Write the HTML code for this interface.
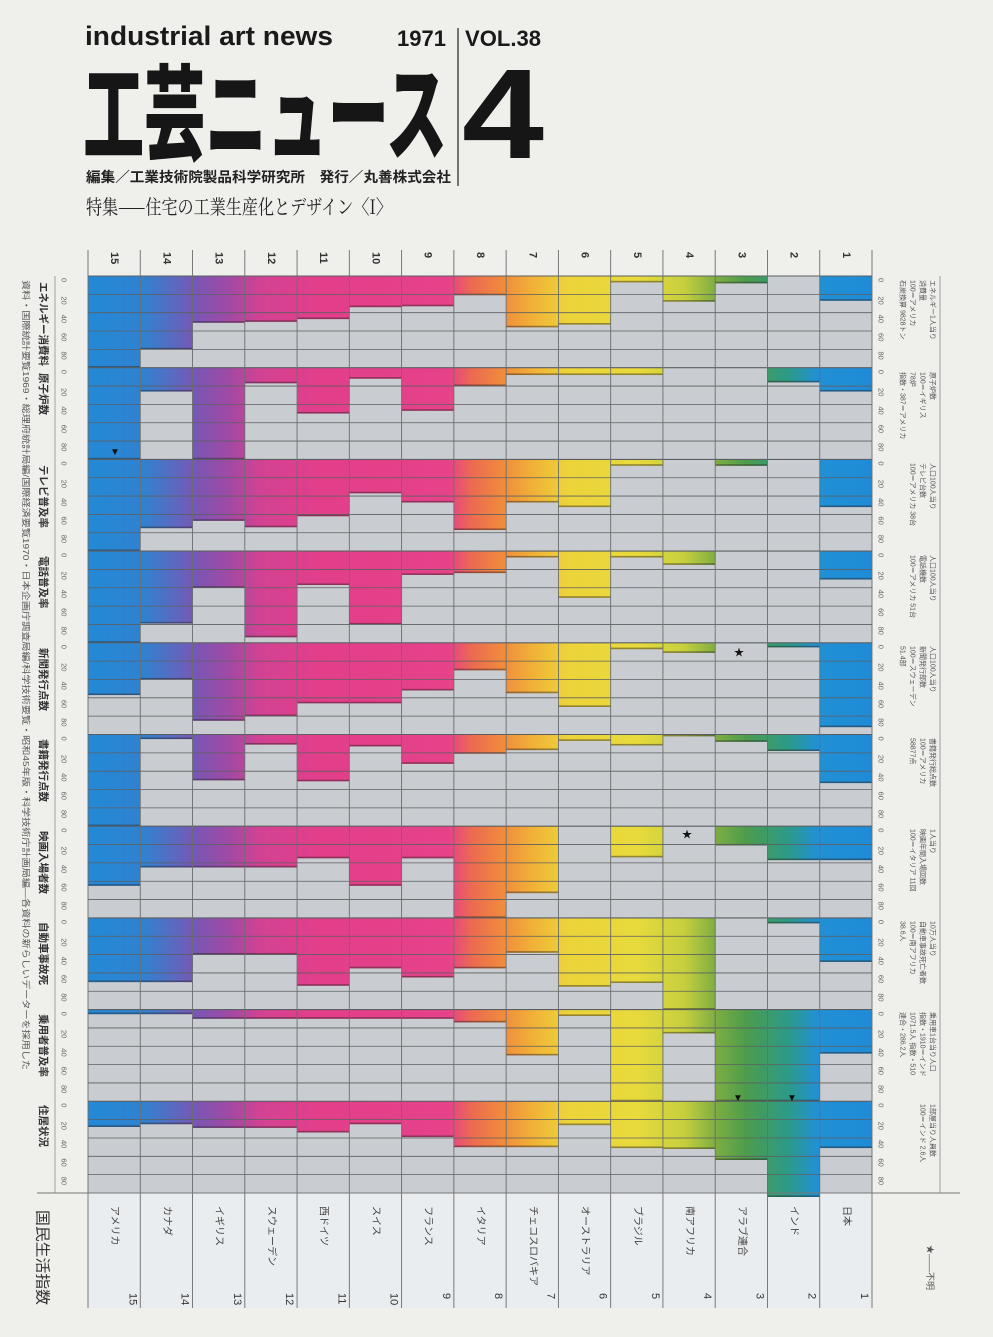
<!DOCTYPE html>
<html><head><meta charset="utf-8">
<style>
html,body{margin:0;padding:0;background:#efefec;}
svg{display:block;}
text{font-family:"Liberation Sans","Noto Sans CJK JP",sans-serif;}
</style></head>
<body>
<svg id="s" width="993" height="1337" viewBox="0 0 993 1337" xmlns="http://www.w3.org/2000/svg">
<defs>
<linearGradient id="g" gradientUnits="userSpaceOnUse" x1="88" y1="0" x2="872" y2="0">
<stop offset="0" stop-color="#2389d6"/>
<stop offset="0.07" stop-color="#2f82d0"/>
<stop offset="0.10" stop-color="#5070c4"/>
<stop offset="0.14" stop-color="#7c55b4"/>
<stop offset="0.18" stop-color="#a04aa4"/>
<stop offset="0.22" stop-color="#d24292"/>
<stop offset="0.30" stop-color="#e33e8a"/>
<stop offset="0.46" stop-color="#e6428a"/>
<stop offset="0.49" stop-color="#ec6a50"/>
<stop offset="0.53" stop-color="#f08c3c"/>
<stop offset="0.57" stop-color="#f1b338"/>
<stop offset="0.61" stop-color="#ecd33a"/>
<stop offset="0.70" stop-color="#e8da3c"/>
<stop offset="0.76" stop-color="#c7cf3e"/>
<stop offset="0.80" stop-color="#7fae42"/>
<stop offset="0.84" stop-color="#4c9c4c"/>
<stop offset="0.895" stop-color="#2b9a8a"/>
<stop offset="0.93" stop-color="#2190d4"/>
<stop offset="1" stop-color="#1f8bd8"/>
</linearGradient>
</defs>
<rect x="0" y="0" width="993" height="1337" fill="#efefec"/>
<rect x="88" y="1193" width="784" height="115" fill="#eaedef"/>
<rect x="88" y="276" width="784" height="917" fill="#c9ccd0"/>
<g id="bars"></g>
<g id="grid" stroke="#5c5f62" stroke-width="0.9"></g>

<!-- header -->
<text x="85" y="45" font-size="27" font-weight="bold" fill="#1a1a1a" textLength="248" lengthAdjust="spacingAndGlyphs">industrial art news</text>
<text x="397" y="46" font-size="22" font-weight="bold" fill="#1a1a1a">1971</text>
<text x="465" y="46" font-size="22" font-weight="bold" fill="#1a1a1a" textLength="76" lengthAdjust="spacingAndGlyphs">VOL.38</text>
<line x1="458" y1="28" x2="458" y2="186" stroke="#222" stroke-width="1.2"/>
<text x="83" y="152" font-size="104" font-weight="900" fill="#161616" style="font-family:'Noto Sans CJK JP',sans-serif" textLength="364" lengthAdjust="spacingAndGlyphs">工芸ニュース</text>
<text x="462" y="158" font-size="128" font-weight="bold" fill="#161616" textLength="82" lengthAdjust="spacingAndGlyphs">4</text>
<text x="86" y="182" font-size="14" font-weight="bold" fill="#222" style="font-family:'Noto Sans CJK JP',sans-serif" textLength="365" lengthAdjust="spacingAndGlyphs">編集／工業技術院製品科学研究所　発行／丸善株式会社</text>
<text x="86" y="214" font-size="20" fill="#222" style="font-family:'Noto Serif CJK SC','Noto Sans CJK JP',serif" textLength="306" lengthAdjust="spacingAndGlyphs">特集——住宅の工業生産化とデザイン〈I〉</text>

<!-- bottom line -->
<line x1="37" y1="1193" x2="960" y2="1193" stroke="#777" stroke-width="1"/>
<text transform="translate(42,1210) rotate(90)" font-size="15" fill="#333" dominant-baseline="central" textLength="95" lengthAdjust="spacingAndGlyphs">国民生活指数</text>
<g id="labels" font-size="10" fill="#444"></g>

<!-- left row titles -->
<g font-size="10.5" font-weight="bold" fill="#333" style="font-family:'Noto Sans CJK JP',sans-serif">
<text transform="translate(43,282) rotate(90)" dominant-baseline="central">エネルギー消費料</text>
<text transform="translate(43,373) rotate(90)" dominant-baseline="central">原子炉数</text>
<text transform="translate(43,465) rotate(90)" dominant-baseline="central">テレビ普及率</text>
<text transform="translate(43,556) rotate(90)" dominant-baseline="central">電話普及率</text>
<text transform="translate(43,648) rotate(90)" dominant-baseline="central">新聞発行点数</text>
<text transform="translate(43,739) rotate(90)" dominant-baseline="central">書籍発行点数</text>
<text transform="translate(43,831) rotate(90)" dominant-baseline="central">映画入場者数</text>
<text transform="translate(43,922) rotate(90)" dominant-baseline="central">自動車事故死</text>
<text transform="translate(43,1014) rotate(90)" dominant-baseline="central">乗用者普及率</text>
<text transform="translate(43,1105) rotate(90)" dominant-baseline="central">住居状況</text>
</g>
<text transform="translate(26,280) rotate(90)" font-size="8.5" fill="#555" dominant-baseline="central" textLength="790" lengthAdjust="spacingAndGlyphs">資料・国際統計要覧1969・総理府統計局編/国際経済要覧1970・日本企画庁調査局編/科学技術要覧・昭和45年版・科学技術庁計画局編—各資料の新らしいデーターを採用した</text>

<!-- right labels -->
<g font-size="7" fill="#555" style="font-family:'Noto Sans CJK JP',sans-serif">
<text transform="translate(932,280) rotate(90)" dominant-baseline="central">エネルギー1人当り</text>
<text transform="translate(922,280) rotate(90)" dominant-baseline="central">消費量</text>
<text transform="translate(912,280) rotate(90)" dominant-baseline="central">100＝アメリカ</text>
<text transform="translate(902,280) rotate(90)" dominant-baseline="central">石炭換算 9828トン</text>
<text transform="translate(932,372) rotate(90)" dominant-baseline="central">原子炉数</text>
<text transform="translate(922,372) rotate(90)" dominant-baseline="central">100＝イギリス</text>
<text transform="translate(912,372) rotate(90)" dominant-baseline="central">78炉</text>
<text transform="translate(902,372) rotate(90)" dominant-baseline="central">指数・387＝アメリカ</text>
<text transform="translate(932,463) rotate(90)" dominant-baseline="central">人口100人当り</text>
<text transform="translate(922,463) rotate(90)" dominant-baseline="central">テレビ台数</text>
<text transform="translate(912,463) rotate(90)" dominant-baseline="central">100＝アメリカ 38台</text>
<text transform="translate(932,555) rotate(90)" dominant-baseline="central">人口100人当り</text>
<text transform="translate(922,555) rotate(90)" dominant-baseline="central">電話機数</text>
<text transform="translate(912,555) rotate(90)" dominant-baseline="central">100＝アメリカ 51台</text>
<text transform="translate(932,646) rotate(90)" dominant-baseline="central">人口100人当り</text>
<text transform="translate(922,646) rotate(90)" dominant-baseline="central">新聞発行部数</text>
<text transform="translate(912,646) rotate(90)" dominant-baseline="central">100＝スウェーデン</text>
<text transform="translate(902,646) rotate(90)" dominant-baseline="central">51.4部</text>
<text transform="translate(932,738) rotate(90)" dominant-baseline="central">書籍発行総点数</text>
<text transform="translate(922,738) rotate(90)" dominant-baseline="central">100＝アメリカ</text>
<text transform="translate(912,738) rotate(90)" dominant-baseline="central">58877点</text>
<text transform="translate(932,829) rotate(90)" dominant-baseline="central">1人当り</text>
<text transform="translate(922,829) rotate(90)" dominant-baseline="central">映画年間入場回数</text>
<text transform="translate(912,829) rotate(90)" dominant-baseline="central">100＝イタリア 11回</text>
<text transform="translate(932,921) rotate(90)" dominant-baseline="central">10万人当り</text>
<text transform="translate(922,921) rotate(90)" dominant-baseline="central">自動車事故死亡者数</text>
<text transform="translate(912,921) rotate(90)" dominant-baseline="central">100＝南アフリカ</text>
<text transform="translate(902,921) rotate(90)" dominant-baseline="central">38.6人</text>
<text transform="translate(932,1012) rotate(90)" dominant-baseline="central">乗用車1台当り人口</text>
<text transform="translate(922,1012) rotate(90)" dominant-baseline="central">指数・1910＝インド</text>
<text transform="translate(912,1012) rotate(90)" dominant-baseline="central">1071.5人 指数・510</text>
<text transform="translate(902,1012) rotate(90)" dominant-baseline="central">連合・286.2人</text>
<text transform="translate(932,1104) rotate(90)" dominant-baseline="central">1部屋当り人員数</text>
<text transform="translate(922,1104) rotate(90)" dominant-baseline="central">100＝インド 2.6人</text>
</g>
<g stroke="#888" stroke-width="0.8">
<line x1="940" y1="276" x2="940" y2="1193"/>
</g>
<text transform="translate(930,1245) rotate(90)" font-size="9" fill="#555" dominant-baseline="central">★——不明</text>

<!-- markers -->
<g font-size="10" fill="#111">
<text x="110" y="455">▼</text>
<text x="734" y="656">★</text>
<text x="682" y="838">★</text>
<text x="733" y="1101">▼</text>
<text x="787" y="1101">▼</text>
</g>

<script>
(function(){
var NS="http://www.w3.org/2000/svg";
var x0=88,cw=784/15,y0=276,rh=91.7;
var d=[
[100,80,51,50,47,34,33,21,56,53,7,28,8,0,27],
[100,26,100,17,50,12,47,20,8,8,8,0,0,16,26],
[100,75,67,74,62,37,47,77,47,52,7,0,7,0,52],
[100,79,40,94,37,80,26,24,7,51,7,15,0,0,31],
[57,40,85,80,66,66,52,30,55,70,7,11,0,5,92],
[100,5,50,11,51,13,32,21,17,7,12,2,8,18,53],
[65,45,45,45,35,65,35,100,73,0,34,0,21,37,37],
[70,70,40,40,74,55,65,55,38,75,71,100,0,6,48],
[5,5,10,10,10,10,10,14,50,7,100,26,100,100,48],
[28,25,29,29,34,25,39,50,50,26,51,52,64,100,51]];
var bars=document.getElementById("bars"),grid=document.getElementById("grid"),lab=document.getElementById("labels");
function el(p,tag,a,t){var e=document.createElementNS(NS,tag);for(var k in a)e.setAttribute(k,a[k]);if(t)e.textContent=t;p.appendChild(e);return e;}
for(var r=0;r<10;r++)for(var k=0;k<15;k++){var v=d[r][k];if(!v)continue;var h=rh*v/100;var y=y0+r*rh;
 if(r==9&&k==13)h+=4;
 el(bars,"rect",{x:x0+k*cw,y:y,width:cw,height:h,fill:"url(#g)"});
 el(bars,"rect",{x:x0+k*cw,y:y+h-1.6,width:cw,height:1.6,fill:"rgba(40,30,30,0.45)"});}
for(var i=0;i<=50;i++){var y=y0+i*rh/5;el(grid,"line",{x1:x0,x2:872,y1:y,y2:y,"stroke-width":(i%5==0)?1.1:0.8});}
for(var k=0;k<=15;k++){var x=x0+k*cw;el(grid,"line",{x1:x,x2:x,y1:250,y2:1308,stroke:"#6a6d70"});}
el(grid,"line",{x1:55,x2:55,y1:276,y2:1193,stroke:"#999"});
var names=["アメリカ","カナダ","イギリス","スウェーデン","西ドイツ","スイス","フランス","イタリア","チェコスロバキア","オーストラリア","ブラジル","南アフリカ","アラブ連合","インド","日本"];
for(var k=0;k<15;k++){var cx=x0+k*cw+cw/2,n=15-k;
 el(lab,"text",{transform:"translate("+cx+",252) rotate(90)","dominant-baseline":"central","font-size":"11","font-weight":"bold",fill:"#333"},String(n));
 el(lab,"text",{transform:"translate("+cx+",1206) rotate(90)","dominant-baseline":"central"},names[k]);
 el(lab,"text",{transform:"translate("+(x0+k*cw+cw-8)+",1293) rotate(90)","dominant-baseline":"central","font-size":"11",fill:"#333"},String(n));}
for(var r=0;r<10;r++){var ticks=["0","20","40","60","80"];
 for(var i=0;i<5;i++){var y=y0+r*rh+i*rh/5+2;
  el(lab,"text",{transform:"translate(64,"+y+") rotate(90)","dominant-baseline":"central","font-size":"7.5",fill:"#666"},ticks[i]);
  el(lab,"text",{transform:"translate(881,"+y+") rotate(90)","dominant-baseline":"central","font-size":"7.5",fill:"#666"},ticks[i]);}}
})();
</script>
</svg>
</body></html>
